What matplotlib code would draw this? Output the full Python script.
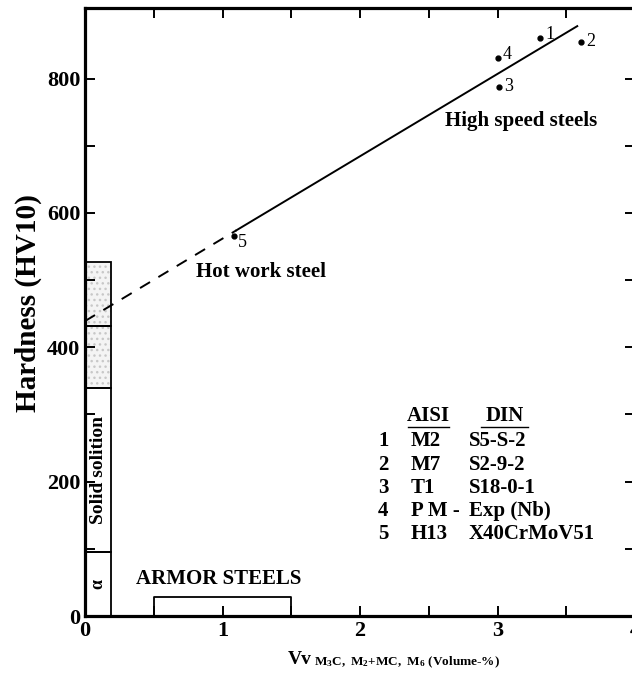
import numpy as np
import matplotlib.pyplot as plt
from matplotlib.patches import Rectangle

plt.rcParams['font.family'] = ['Liberation Serif', 'DejaVu Serif']
plt.rcParams['font.weight'] = 'bold'
plt.rcParams['axes.labelweight'] = 'bold'
plt.rcParams['mathtext.fontset'] = 'custom'
plt.rcParams['mathtext.rm'] = 'Liberation Serif:bold'
plt.rcParams['mathtext.it'] = 'Liberation Serif:bold'

# puntos medidos (aceros)
pt_num = ["1", "2", "3", "4", "5"]
pt_x = [3.31, 3.61, 3.01, 3.00, 1.08]
pt_y = [860, 855, 788, 830, 566]

# recta de ajuste
fit_x_solid = [1.1, 3.58]
fit_y_solid = [574, 878]
fit_x_dash = [0.0, 1.1]
fit_y_dash = [439, 574]

# bloques a la izquierda (limites en HV)
box_edges = [0, 95, 339, 431, 527]
box_shaded = [False, False, True, True]

# tabla AISI / DIN
aisi = ["M2", "M7", "T1", "P M -", "H13"]
din = ["S5-S-2", "S2-9-2", "S18-0-1", "Exp (Nb)", "X40CrMoV51"]
row_y = [260, 225, 191, 157, 122]

fig = plt.figure(figsize=(6.32, 6.91), dpi=100)
ax = fig.add_axes([85/632, 75/691, 550/632, 608/691])
ax.set_xlim(0, 4)
ax.set_ylim(0, 905)

ax.plot(fit_x_solid, fit_y_solid, color="k", lw=1.4)
ax.plot(fit_x_dash, fit_y_dash, color="k", lw=1.4, linestyle=(0, (6, 5)))
ax.plot(pt_x, pt_y, "o", color="k", ms=3.5)
offs = {"1": 6, "2": 0, "3": 0, "4": 6, "5": -10}
for n, x, y in zip(pt_num, pt_x, pt_y):
    ax.text(x + 0.035, y + offs[n], n, fontsize=13, fontweight="normal", va="center")

for i in range(len(box_shaded)):
    lo, hi = box_edges[i], box_edges[i + 1]
    if box_shaded[i]:
        ax.add_patch(Rectangle((0, lo), 0.19, hi - lo, facecolor="#f4f4f4",
                               edgecolor="#c8c8c8", lw=0, hatch="...", zorder=1))
    ax.add_patch(Rectangle((0, lo), 0.19, hi - lo, facecolor="none",
                           edgecolor="k", lw=1.3, zorder=2))
ax.text(0.095, 217, "Solid solition", rotation=90, ha="center", va="center", fontsize=14)
ax.text(0.095, 48, "α", rotation=90, ha="center", va="center", fontsize=13)

# armor steels
ax.plot([0.5, 0.5, 1.5, 1.5], [0, 28, 28, 0], color="k", lw=1.3)
ax.text(0.97, 40, "ARMOR STEELS", ha="center", va="bottom", fontsize=15)

ax.text(3.17, 737, "High speed steels", ha="center", va="center", fontsize=15)
ax.text(1.28, 512, "Hot work steel", ha="center", va="center", fontsize=15)

# tabla
ax.text(2.5, 297, "AISI", ha="center", va="center", fontsize=15)
ax.text(3.05, 297, "DIN", ha="center", va="center", fontsize=15)
ax.plot([2.35, 2.65], [282, 282], color="k", lw=1)
ax.plot([2.88, 3.22], [282, 282], color="k", lw=1)
for n, a, d, y in zip(pt_num, aisi, din, row_y):
    ax.text(2.17, y, n, ha="center", va="center", fontsize=15)
    ax.text(2.37, y, a, ha="left", va="center", fontsize=15)
    ax.text(2.79, y, d, ha="left", va="center", fontsize=15)

ax.set_xticks([0, 1, 2, 3, 4])
ax.set_xticks([0.5, 1.5, 2.5, 3.5], minor=True)
ax.set_yticks([0, 200, 400, 600, 800])
ax.set_yticks([100, 300, 500, 700], minor=True)
ax.tick_params(which="both", direction="in", top=True, right=True, width=1.4, labelsize=16)
ax.tick_params(which="major", length=7)
ax.tick_params(which="minor", length=7)
for s in ax.spines.values():
    s.set_linewidth(2.3)

ax.set_ylabel("Hardness (HV10)", fontsize=21)
ax.yaxis.set_label_coords(-0.078, 0.515)
fig.text(288/632, 1 - 660/691, "Vv", fontsize=14, ha="left", va="center")
fig.text(314/632, 1 - 662/691, r"$\mathregular{M_3C,\ M_2{+}MC,\ M_6\ (Volume\text{-}\%)}$",
         fontsize=9.5, ha="left", va="center")

fig.savefig("out.png", dpi=100)
